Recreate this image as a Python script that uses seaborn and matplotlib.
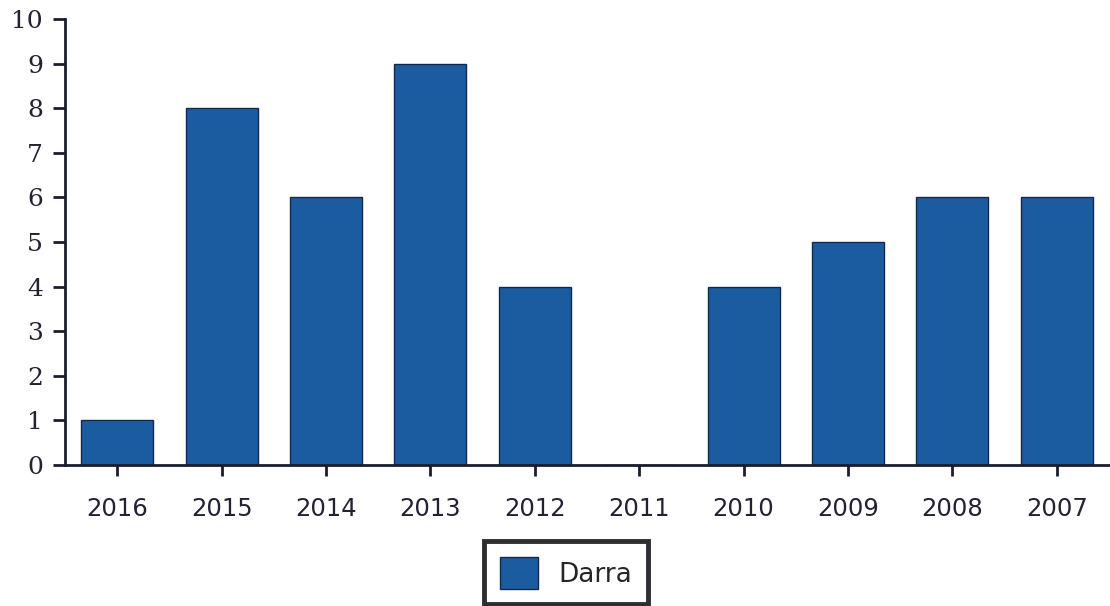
import matplotlib
matplotlib.use("Agg")
import matplotlib.pyplot as plt
import seaborn as sns
import pandas as pd

years = ["2016", "2015", "2014", "2013", "2012", "2011", "2010", "2009", "2008", "2007"]
values = [1, 8, 6, 9, 4, 0, 4, 5, 6, 6]
series_name = "Darra"
yticks = list(range(0, 11))

sns.set_theme(style="white")
plt.rcParams['font.family'] = ['DejaVu Sans']

df = pd.DataFrame({"year": years, "value": values})

fig = plt.figure(figsize=(11.10, 6.06), dpi=100)
ax = fig.add_axes([0.0586, 0.2327, 0.9404, 0.7359])

bar_color = "#1b5ca0"
sns.barplot(data=df, x="year", y="value", order=years, color=bar_color,
            width=0.69, saturation=1, edgecolor="#16284a", linewidth=1.0,
            label=series_name, ax=ax)

ax.set_xlim(-0.5, len(years) - 0.5)
ax.set_ylim(0, 10)
ax.set_yticks(yticks)
ax.set_yticklabels([str(t) for t in yticks], family="DejaVu Serif", fontsize=18, color="#222233")
ax.set_xticks(range(len(years)))
ax.set_xticklabels(years, fontsize=17.5, color="#222233")
ax.set_xlabel("")
ax.set_ylabel("")

for s in ["top", "right"]:
    ax.spines[s].set_visible(False)
for s in ["left", "bottom"]:
    ax.spines[s].set_color("#1a1d2e")
    ax.spines[s].set_linewidth(2)

ax.tick_params(axis="y", direction="out", length=9, width=2, color="#1a1d2e", pad=7, left=True)
ax.tick_params(axis="x", direction="out", length=8, width=2, color="#1a1d2e", pad=15, bottom=True)

if ax.get_legend() is not None:
    ax.get_legend().remove()
handles, labels = ax.get_legend_handles_labels()
leg = fig.legend(handles[:1], labels[:1], loc="center", bbox_to_anchor=(0.51, 0.0545),
                 fontsize=19, frameon=True, fancybox=False, framealpha=1,
                 handlelength=1.45, handleheight=1.45, borderpad=0.6,
                 handletextpad=0.75, borderaxespad=0)
leg.get_frame().set_edgecolor("#2e2e32")
leg.get_frame().set_linewidth(3.5)

fig.savefig("out.png", dpi=100)
